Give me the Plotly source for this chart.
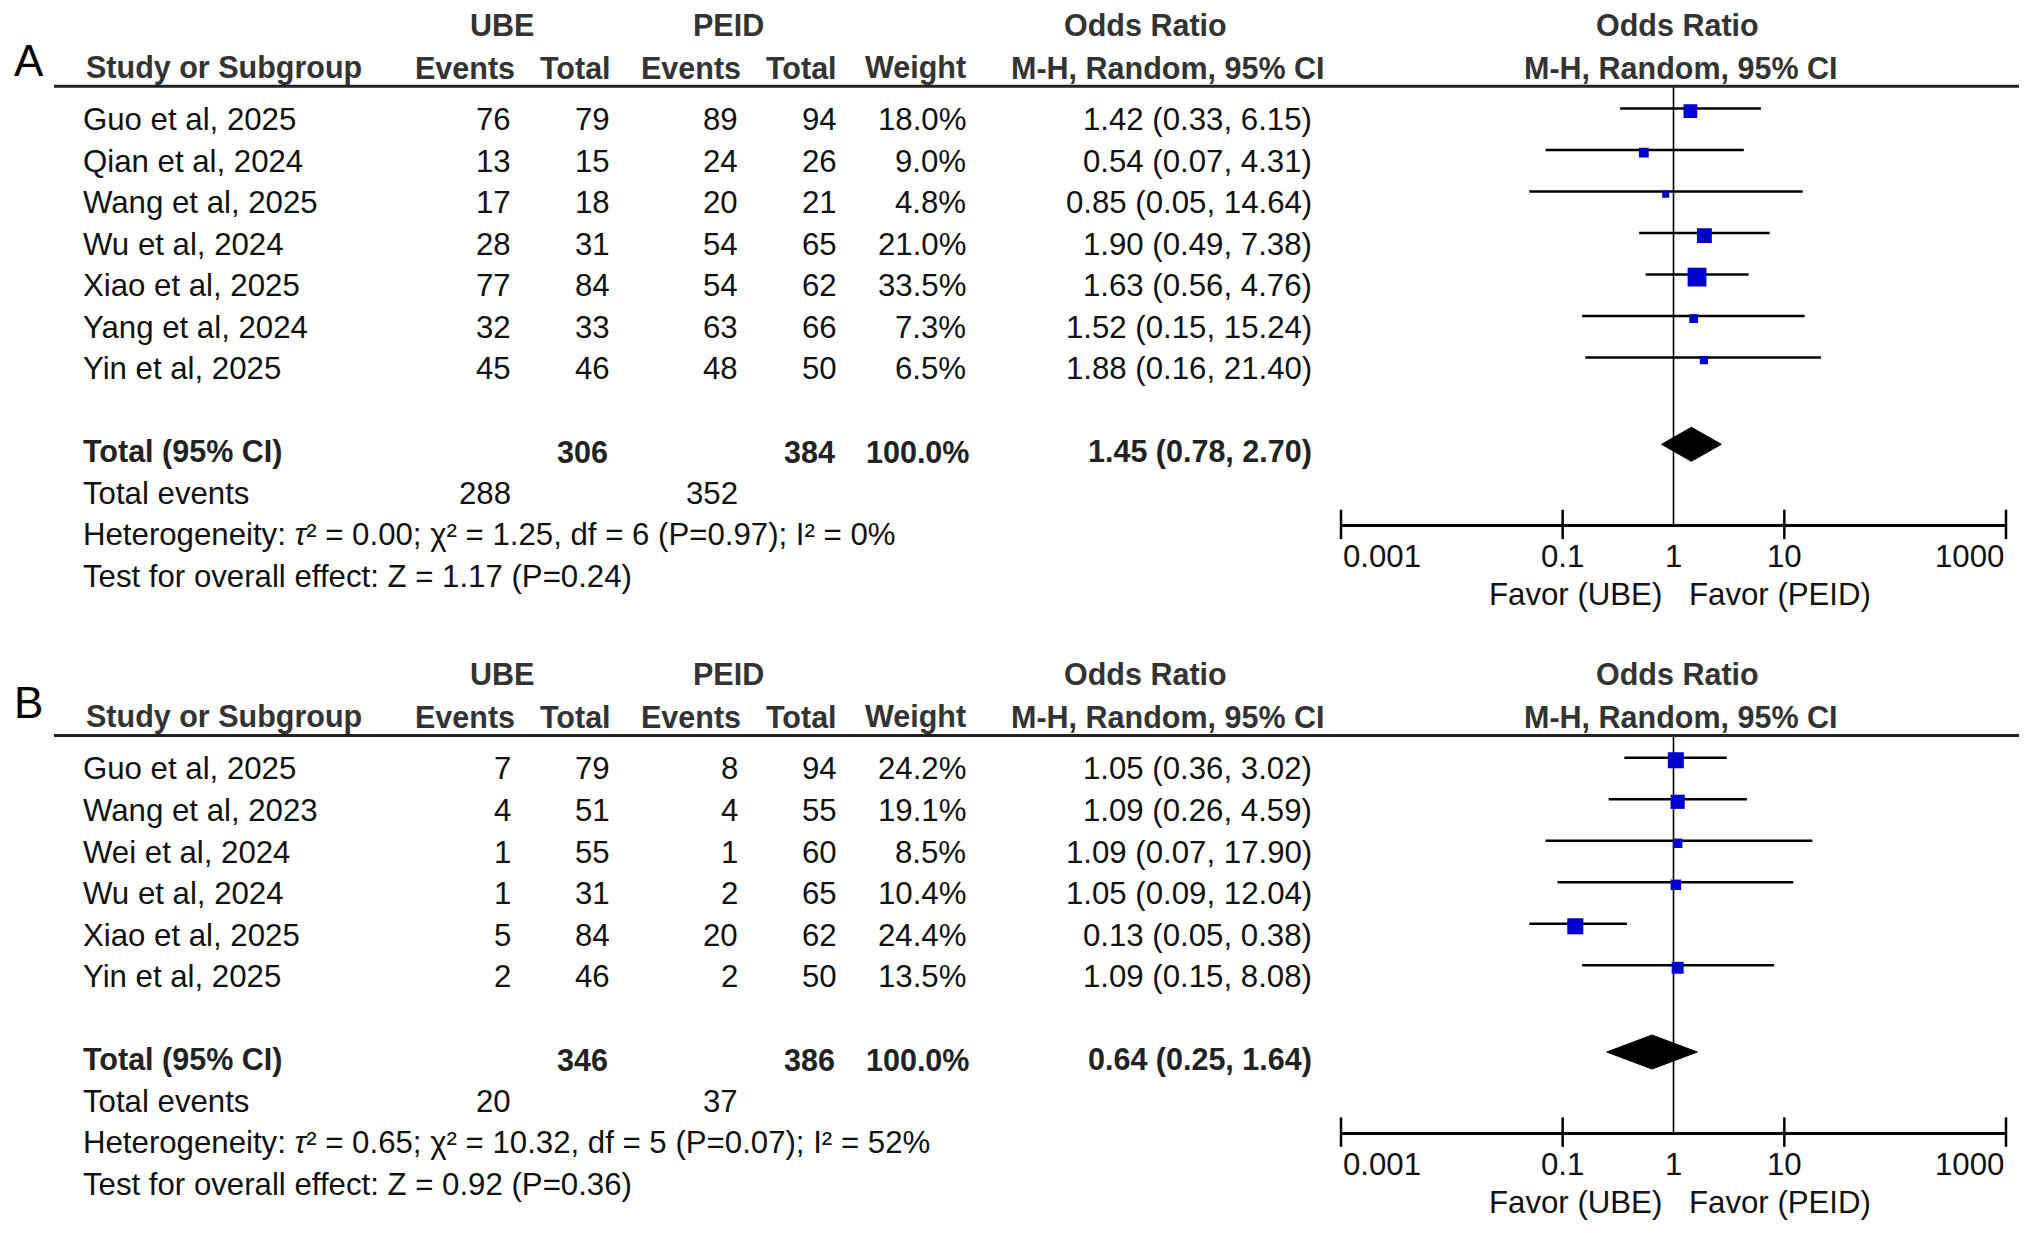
import math
import plotly.graph_objects as go

# ---- data: panel A ----
studies_a = ["Guo et al, 2025", "Qian et al, 2024", "Wang et al, 2025", "Wu et al, 2024",
             "Xiao et al, 2025", "Yang et al, 2024", "Yin et al, 2025"]
ube_events_a = [76, 13, 17, 28, 77, 32, 45]
ube_total_a = [79, 15, 18, 31, 84, 33, 46]
peid_events_a = [89, 24, 20, 54, 54, 63, 48]
peid_total_a = [94, 26, 21, 65, 62, 66, 50]
weight_a = [18.0, 9.0, 4.8, 21.0, 33.5, 7.3, 6.5]
or_a = [1.42, 0.54, 0.85, 1.90, 1.63, 1.52, 1.88]
lo_a = [0.33, 0.07, 0.05, 0.49, 0.56, 0.15, 0.16]
hi_a = [6.15, 4.31, 14.64, 7.38, 4.76, 15.24, 21.40]
total_a = [306, 384]
total_events_a = [288, 352]
pooled_a = [1.45, 0.78, 2.70]
het_a = "Heterogeneity: <i>τ</i>² = 0.00; χ² = 1.25, df = 6 (P=0.97); I² = 0%"
test_a = "Test for overall effect: Z = 1.17 (P=0.24)"

# ---- data: panel B ----
studies_b = ["Guo et al, 2025", "Wang et al, 2023", "Wei et al, 2024", "Wu et al, 2024",
             "Xiao et al, 2025", "Yin et al, 2025"]
ube_events_b = [7, 4, 1, 1, 5, 2]
ube_total_b = [79, 51, 55, 31, 84, 46]
peid_events_b = [8, 4, 1, 2, 20, 2]
peid_total_b = [94, 55, 60, 65, 62, 50]
weight_b = [24.2, 19.1, 8.5, 10.4, 24.4, 13.5]
or_b = [1.05, 1.09, 1.09, 1.05, 0.13, 1.09]
lo_b = [0.36, 0.26, 0.07, 0.09, 0.05, 0.15]
hi_b = [3.02, 4.59, 17.90, 12.04, 0.38, 8.08]
total_b = [346, 386]
total_events_b = [20, 37]
pooled_b = [0.64, 0.25, 1.64]
het_b = "Heterogeneity: <i>τ</i>² = 0.65; χ² = 10.32, df = 5 (P=0.07); I² = 52%"
test_b = "Test for overall effect: Z = 0.92 (P=0.36)"

tick_vals = [0.001, 0.1, 1, 10, 1000]
tick_text = ["0.001", "0.1", "1", "10", "1000"]
tick_marks = [0.001, 0.1, 10, 1000]
no_effect = 1

# ---- layout constants (page pixels; the page body has an 8px margin) ----
PAGE_W, PAGE_H = 2031, 1233
PAD = 8
W, H = PAGE_W - 2 * PAD, PAGE_H - 2 * PAD
ROW = 41.5
FONT = "Liberation Sans, Arial, sans-serif"
FS = 31.2     # regular text
FSB = 30.5    # bold text
X0, X1 = 1341, 2006   # forest plot x extent


def px(x):
    return (x - PAD) / W


panels = [
    dict(label="A", label_y=61, top=119.8, studies=studies_a, ue=ube_events_a, ut=ube_total_a,
         pe=peid_events_a, pt=peid_total_a, w=weight_a, est=or_a, lo=lo_a, hi=hi_a,
         tot=total_a, tev=total_events_a, pooled=pooled_a, het=het_a, test=test_a),
    dict(label="B", label_y=702, top=769.0, studies=studies_b, ue=ube_events_b, ut=ube_total_b,
         pe=peid_events_b, pt=peid_total_b, w=weight_b, est=or_b, lo=lo_b, hi=hi_b,
         tot=total_b, tev=total_events_b, pooled=pooled_b, het=het_b, test=test_b),
]

fig = go.Figure()
annotations = []
shapes = []


def txt(x, y, s, anchor="right", bold=False, color="#111"):
    annotations.append(dict(
        x=px(x), y=y, xref="paper", yref="paper", text=f"<b>{s}</b>" if bold else s,
        xanchor=anchor, yanchor="middle", showarrow=False,
        font=dict(family=FONT, size=FSB if bold else FS, color=color)))


for k, p in enumerate(panels):
    n = len(p["studies"])
    xa = "x" if k == 0 else "x2"
    ya = "y" if k == 0 else "y2"
    top = p["top"]

    def yp(r):
        return 1 - (top + ROW * r - PAD) / H

    r_head = -0.81
    r_axis = n + 2.75
    off = -0.21  # marks sit a little above the text centre

    # headers
    hc = "#333"
    txt(502, yp(-2.28), "UBE", "center", True, hc)
    txt(728, yp(-2.28), "PEID", "center", True, hc)
    txt(1145, yp(-2.28), "Odds Ratio", "center", True, hc)
    txt(1677, yp(-2.28), "Odds Ratio", "center", True, hc)
    txt(84, yp(-1.26), "Study or Subgroup", "left", True, hc)
    txt(517, yp(-1.26), "Events", "right", True, hc)
    txt(613, yp(-1.26), "Total", "right", True, hc)
    txt(743, yp(-1.26), "Events", "right", True, hc)
    txt(839, yp(-1.26), "Total", "right", True, hc)
    txt(968, yp(-1.26), "Weight", "right", True, hc)
    txt(1168, yp(-1.26), "M-H, Random, 95% CI", "center", True, hc)
    txt(1681, yp(-1.26), "M-H, Random, 95% CI", "center", True, hc)
    annotations.append(dict(x=px(12), y=1 - (p["label_y"] - PAD) / H, xref="paper", yref="paper",
                            text=p["label"], xanchor="left", yanchor="middle", showarrow=False,
                            font=dict(family=FONT, size=44, color="#000")))

    # study rows
    for i in range(n):
        txt(81, yp(i), p["studies"][i], "left")
        txt(513, yp(i), str(p["ue"][i]))
        txt(612, yp(i), str(p["ut"][i]))
        txt(740, yp(i), str(p["pe"][i]))
        txt(839, yp(i), str(p["pt"][i]))
        txt(968, yp(i), f"{p['w'][i]:.1f}%")
        txt(1314, yp(i), f"{p['est'][i]:.2f} ({p['lo'][i]:.2f}, {p['hi'][i]:.2f})")

    # totals
    rt = n + 1
    txt(81, yp(rt), "Total (95% CI)", "left", True, "#222")
    txt(610, yp(rt), str(p["tot"][0]), "right", True, "#222")
    txt(837, yp(rt), str(p["tot"][1]), "right", True, "#222")
    txt(971, yp(rt), "100.0%", "right", True, "#222")
    e, l, h = p["pooled"]
    txt(1314, yp(rt), f"{e:.2f} ({l:.2f}, {h:.2f})", "right", True, "#222")
    txt(81, yp(n + 2), "Total events", "left")
    txt(513, yp(n + 2), str(p["tev"][0]))
    txt(740, yp(n + 2), str(p["tev"][1]))
    txt(81, yp(n + 3), p["het"], "left")
    txt(81, yp(n + 4), p["test"], "left")

    # line of no effect
    fig.add_trace(go.Scatter(x=[no_effect, no_effect], y=[r_head, r_axis], mode="lines",
                             line=dict(color="black", width=1.6), cliponaxis=False,
                             xaxis=xa, yaxis=ya, hoverinfo="skip"))
    # confidence intervals
    cx, cy = [], []
    for i in range(n):
        cx += [p["lo"][i], p["hi"][i], None]
        cy += [i + off - 0.06, i + off - 0.06, None]
    fig.add_trace(go.Scatter(x=cx, y=cy, mode="lines", line=dict(color="black", width=2.5),
                             xaxis=xa, yaxis=ya, hoverinfo="skip"))
    # weighted squares
    fig.add_trace(go.Scatter(
        x=p["est"], y=[i + off for i in range(n)], mode="markers",
        marker=dict(symbol="square", color="#0000cc", opacity=1,
                    size=[3.25 * math.sqrt(w) for w in p["w"]], line=dict(width=0)),
        xaxis=xa, yaxis=ya, text=p["studies"], hoverinfo="text+x"))
    # pooled diamond
    hd = 0.41
    dc = rt - 0.18
    fig.add_trace(go.Scatter(
        x=[l, e, h, e, l], y=[dc, dc - hd, dc, dc + hd, dc],
        mode="lines", fill="toself", fillcolor="black", line=dict(color="black", width=1),
        xaxis=xa, yaxis=ya, hoverinfo="skip"))
    # crossing tick marks on the axis
    fig.add_trace(go.Scatter(
        x=tick_marks, y=[r_axis] * len(tick_marks), mode="markers", cliponaxis=False,
        marker=dict(symbol="line-ns", size=21, line=dict(width=2.5, color="black")),
        xaxis=xa, yaxis=ya, hoverinfo="skip"))
    # tick labels (ends aligned to the axis ends, like RevMan)
    for v, t in zip(tick_vals, tick_text):
        anc = "left" if v == tick_vals[0] else ("right" if v == tick_vals[-1] else "center")
        annotations.append(dict(x=math.log10(v), y=yp(n + 3.52), xref=xa, yref="paper", text=t,
                                xanchor=anc, yanchor="middle", showarrow=False,
                                font=dict(family=FONT, size=FS, color="#111")))
    annotations.append(dict(x=math.log10(no_effect), y=yp(n + 4.45), xref=xa, yref="paper",
                            text="Favor (UBE)", xanchor="right", yanchor="middle",
                            xshift=-10, showarrow=False,
                            font=dict(family=FONT, size=FS, color="#111")))
    annotations.append(dict(x=math.log10(no_effect), y=yp(n + 4.45), xref=xa, yref="paper",
                            text="Favor (PEID)", xanchor="left", yanchor="middle",
                            xshift=13, showarrow=False,
                            font=dict(family=FONT, size=FS, color="#111")))

    # header rule
    shapes.append(dict(type="line", xref="paper", yref="paper", x0=px(54), x1=px(2019),
                       y0=yp(r_head), y1=yp(r_head), line=dict(color="#222", width=3)))

    axis_cfg = dict(type="log", range=[-3, 3], domain=[px(X0), px(X1)], showline=True,
                    linecolor="black", linewidth=2.5, ticks="", showticklabels=False,
                    showgrid=False, zeroline=False, fixedrange=True, anchor=ya)
    yaxis_cfg = dict(range=[r_axis, r_head], domain=[yp(r_axis), yp(r_head)], visible=False,
                     fixedrange=True, anchor=xa)
    if k == 0:
        fig.update_layout(xaxis=axis_cfg, yaxis=yaxis_cfg)
    else:
        fig.update_layout(xaxis2=axis_cfg, yaxis2=yaxis_cfg)

fig.update_layout(
    width=W, height=H, margin=dict(l=0, r=0, t=0, b=0),
    paper_bgcolor="white", plot_bgcolor="white", showlegend=False,
    annotations=annotations, shapes=shapes,
)

fig.write_html("out.html")
